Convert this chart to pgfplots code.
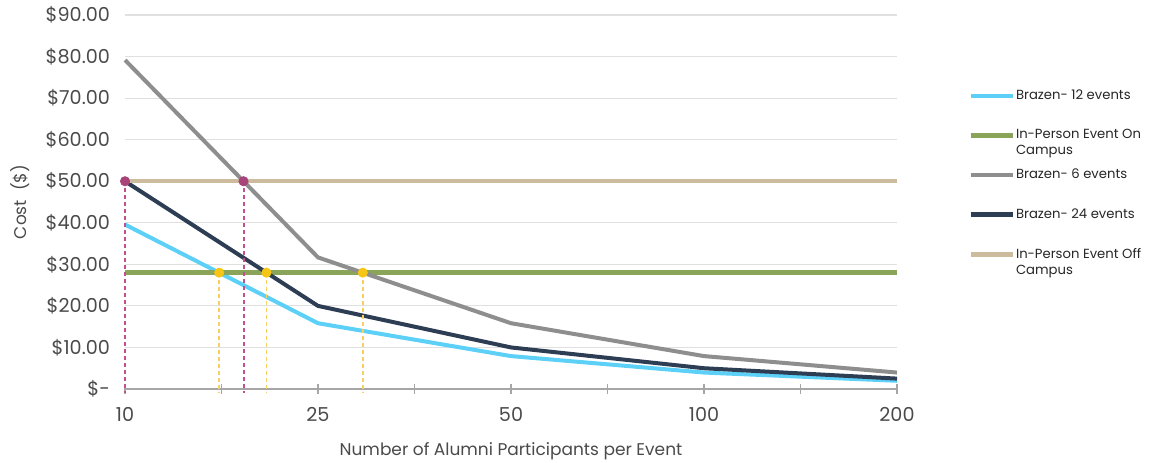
\documentclass[border=0pt]{standalone}
\usepackage{fontspec}
\setmainfont{Poppins}
\usepackage{pgfplots}
\pgfplotsset{compat=1.18}

\definecolor{cblue}{HTML}{5CD0F7}
\definecolor{cgreen}{HTML}{8AA55A}
\definecolor{cgrey}{HTML}{8E8E8E}
\definecolor{cnavy}{HTML}{2D3E54}
\definecolor{ctan}{HTML}{CDBB9E}
\definecolor{cmag}{HTML}{A8447A}
\definecolor{cmagd}{HTML}{C2508C}
\definecolor{cyel}{HTML}{F5C518}
\definecolor{cyeld}{HTML}{F8D060}
\definecolor{ctxt}{HTML}{4A4A4A}

\begin{document}
\begin{tikzpicture}
\path[use as bounding box] (0,0) rectangle (578pt,231pt);
\begin{axis}[
    at={(62.5pt,36.5pt)}, anchor=south west,
    scale only axis, width=386pt, height=187pt,
    xmin=0, xmax=4, ymin=0, ymax=90,
    axis x line=bottom, axis y line=left,
    x axis line style={-, color=black!35, line width=0.8pt},
    y axis line style={draw=none},
    xtick={0,1,2,3,4},
    xticklabels={10,25,50,100,200},
    minor xtick={0.5,1.5,2.5,3.5},
    tick align=center,
    xtick style={color=black!35, line width=0.7pt},
    major tick length=5pt, minor tick length=5pt,
    ytick={0,10,...,90},
    yticklabels={\$-,\$10.00,\$20.00,\$30.00,\$40.00,\$50.00,\$60.00,\$70.00,\$80.00,\$90.00},
    ytick style={draw=none},
    ymajorgrids,
    grid style={color=black!12, line width=0.6pt},
    tick label style={font=\fontsize{9.6}{11}\selectfont, text=ctxt},
    xticklabel style={yshift=-3pt},
    yticklabel style={xshift=-1.5pt},
    xlabel={Number of Alumni Participants per Event},
    ylabel={Cost\ \ (\$)},
    label style={font=\fontsize{8.5}{10}\selectfont, text=ctxt},
    xlabel style={yshift=-4pt},
    ylabel style={yshift=1pt},
    legend style={draw=none, fill=none, at={(axis description cs:1.092,0.805)}, anchor=north west,
        font=\fontsize{6.6}{8}\selectfont, row sep=12.3pt, inner sep=0pt,
        nodes={inner sep=0.6pt, text=black!85}},
    legend cell align=left,
    legend image code/.code={\draw[#1, line width=2.2pt] (0pt,0pt) -- (21pt,0pt);},
    clip=false,
]
\addplot[cblue, line width=2pt] coordinates {(0,39.58)(1,15.83)(2,7.92)(3,3.96)(4,1.98)};
\addlegendentry{Brazen- 12 events}
\addplot[cgreen, line width=2.4pt] coordinates {(0,28)(4,28)};
\addlegendentry{\raisebox{0pt}[\height][0pt]{\parbox[t]{100pt}{In-Person Event On\\Campus}}}
\addplot[cgrey, line width=2pt] coordinates {(0,79.17)(1,31.67)(2,15.83)(3,7.92)(4,3.96)};
\addlegendentry{Brazen- 6 events}
\addplot[cnavy, line width=2pt] coordinates {(0,50)(1,20)(2,10)(3,5)(4,2.5)};
\addlegendentry{Brazen- 24 events}
\addplot[ctan, line width=2pt] coordinates {(0,50)(4,50)};
\addlegendentry{\raisebox{0pt}[\height][0pt]{\parbox[t]{100pt}{In-Person Event Off\\Campus}}}

% drop lines at the crossings
\addplot[forget plot, cmagd, line width=1pt, dash pattern=on 2pt off 1.5pt] coordinates {(0,50)(0,-1)};
\addplot[forget plot, cmagd, line width=1pt, dash pattern=on 2pt off 1.5pt] coordinates {(0.614,50)(0.614,-1)};
\addplot[forget plot, cyeld, line width=0.9pt, dash pattern=on 2pt off 1.5pt] coordinates {(0.488,28)(0.488,-1)};
\addplot[forget plot, cyeld, line width=0.9pt, dash pattern=on 2pt off 1.5pt] coordinates {(0.733,28)(0.733,-1)};
\addplot[forget plot, cyeld, line width=0.9pt, dash pattern=on 2pt off 1.5pt] coordinates {(1.232,28)(1.232,-1)};
\addplot[forget plot, only marks, mark=*, mark size=2.3pt, cmag] coordinates {(0,50)(0.614,50)};
\addplot[forget plot, only marks, mark=*, mark size=2.3pt, cyel] coordinates {(0.488,28)(0.733,28)(1.232,28)};
\end{axis}
\end{tikzpicture}
\end{document}
